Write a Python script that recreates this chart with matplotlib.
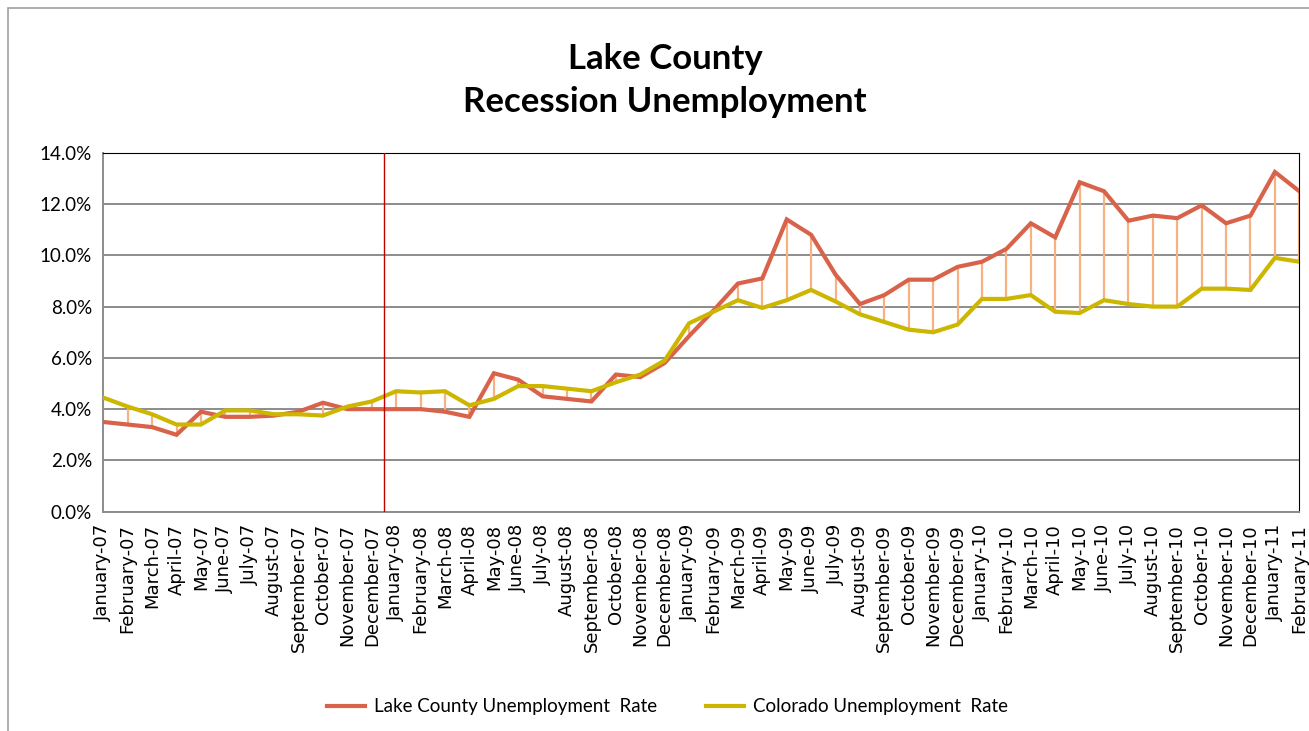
import matplotlib
matplotlib.use("Agg")
import matplotlib.pyplot as plt
from matplotlib.patches import Rectangle

# monthly categories Jan-07 .. Feb-11
months = ["January", "February", "March", "April", "May", "June", "July",
          "August", "September", "October", "November", "December"]
labels = []
for yr in ["07", "08", "09", "10", "11"]:
    for m in months:
        labels.append(m + "-" + yr)
labels = labels[:50]

# unemployment rates in percent
lake_rate = [3.5, 3.4, 3.3, 3.0, 3.9, 3.7, 3.7, 3.75, 3.9, 4.25,
             4.0, 4.0, 4.0, 4.0, 3.9, 3.7, 5.4, 5.15, 4.5, 4.4,
             4.3, 5.35, 5.25, 5.8, 6.85, 7.85, 8.9, 9.1, 11.4, 10.8,
             9.25, 8.1, 8.45, 9.05, 9.05, 9.55, 9.75, 10.25, 11.25, 10.7,
             12.85, 12.5, 11.35, 11.55, 11.45, 11.95, 11.25, 11.55, 13.25, 12.5]
colorado_rate = [4.45, 4.1, 3.8, 3.4, 3.4, 3.95, 3.95, 3.8, 3.8, 3.75,
                 4.1, 4.3, 4.7, 4.65, 4.7, 4.15, 4.4, 4.9, 4.9, 4.8,
                 4.7, 5.05, 5.35, 5.9, 7.35, 7.8, 8.25, 7.95, 8.25, 8.65,
                 8.2, 7.7, 7.4, 7.1, 7.0, 7.3, 8.3, 8.3, 8.45, 7.8,
                 7.75, 8.25, 8.1, 8.0, 8.0, 8.7, 8.7, 8.65, 9.9, 9.75]

lake_color = "#D9624A"
co_color = "#CDB600"

fig = plt.figure(figsize=(13.09, 7.31), dpi=100)
ax = fig.add_axes([0.0789, 0.300, 0.9137, 0.491])

# outer chart border
fig.patches.append(Rectangle((8 / 1309, -0.05), 1.2, 1 - 8 / 731 + 0.05,
                             transform=fig.transFigure, fill=False,
                             edgecolor="#A0A0A0", linewidth=1.2))

x = list(range(len(labels)))

# high-low lines between the two series
for i in x:
    lo = min(lake_rate[i], colorado_rate[i])
    hi = max(lake_rate[i], colorado_rate[i])
    ax.plot([i, i], [lo, hi], color="#F7B183", linewidth=1.6, zorder=2)

ax.plot(x, lake_rate, color=lake_color, linewidth=3.0, zorder=3,
        label="Lake County Unemployment  Rate", solid_joinstyle="miter")
ax.plot(x, colorado_rate, color=co_color, linewidth=3.0, zorder=3,
        label="Colorado Unemployment  Rate", solid_joinstyle="miter")

# start of recession marker
ax.axvline(11.5, color="#C00000", linewidth=1.0, zorder=4)

ax.set_xlim(0, len(labels) - 1)
ax.set_ylim(0, 14)
ax.set_yticks([0, 2, 4, 6, 8, 10, 12, 14])
ax.set_yticklabels(["%.1f%%" % v for v in [0, 2, 4, 6, 8, 10, 12, 14]],
                   fontsize=13.5, family="Lato")
ax.set_xticks(x)
ax.set_xticklabels(labels, rotation=90, fontsize=13, family="DejaVu Sans")
ax.tick_params(axis="x", length=0, pad=9)
ax.tick_params(axis="y", length=0, pad=8)

ax.grid(axis="y", color="#8C8C8C", linewidth=1.4)
ax.set_axisbelow(True)
ax.spines["left"].set_color("#8C8C8C")
ax.spines["bottom"].set_color("#8C8C8C")
ax.spines["left"].set_linewidth(1.4)
ax.spines["bottom"].set_linewidth(1.4)
ax.spines["top"].set_color("black")
ax.spines["right"].set_color("black")

fig.text(0.508, 0.890, "Lake County\nRecession Unemployment", ha="center",
         va="center", fontsize=25, fontweight="bold", family="Lato",
         linespacing=1.45)

fig.legend(loc="center", bbox_to_anchor=(0.51, 0.033), ncol=2,
           frameon=False, prop={"family": "Lato", "size": 13.5},
           handlelength=2.0, handletextpad=0.5, columnspacing=2.6)

fig.savefig("out.png", dpi=100)
